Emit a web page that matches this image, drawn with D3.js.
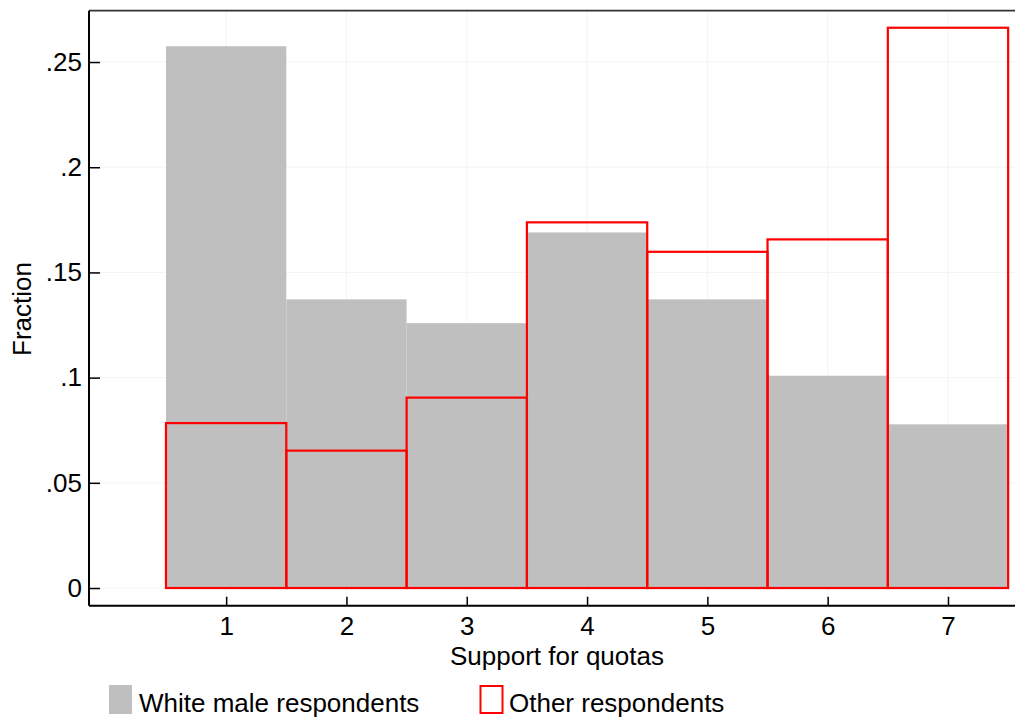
<!DOCTYPE html>
<html>
<head>
<meta charset="utf-8">
<script src="https://cdn.jsdelivr.net/npm/d3@7"></script>
<style>
html,body{margin:0;padding:0;background:#fff;}
svg{display:block;font-family:"Liberation Sans",Arial,Helvetica,sans-serif;}
</style>
</head>
<body>
<script>
const categories = [1, 2, 3, 4, 5, 6, 7];
const whiteMale = [0.2575, 0.1372, 0.1259, 0.1690, 0.1372, 0.1009, 0.0778];
const other = [0.0784, 0.0653, 0.0905, 0.1738, 0.1598, 0.1657, 0.2663];
const yTicks = [0, 0.05, 0.1, 0.15, 0.2, 0.25];
const yTickLabels = ["0", ".05", ".1", ".15", ".2", ".25"];
const seriesNames = ["White male respondents", "Other respondents"];

(function () {
const W = 1015, H = 721, FS = 26;
const svg = d3.select("body").append("svg").attr("width", W).attr("height", H);

const pL = 89, pR = 1015, pT = 10.7, pB = 605.7;
const x = d3.scaleLinear().domain([-0.14, 7.557]).range([pL, pR]);
const y = d3.scaleLinear().domain([-0.0084, 0.2744]).range([pB, pT]);

// faint grid
svg.append("g").selectAll("line").data(categories).join("line")
  .attr("x1", d => x(d)).attr("x2", d => x(d))
  .attr("y1", pT).attr("y2", pB)
  .attr("stroke", "#f4f4f4").attr("stroke-width", 1);
svg.append("g").selectAll("line").data(yTicks).join("line")
  .attr("x1", pL).attr("x2", pR)
  .attr("y1", d => y(d)).attr("y2", d => y(d))
  .attr("stroke", "#f4f4f4").attr("stroke-width", 1);

// gray bars
svg.append("g").selectAll("rect").data(categories).join("rect")
  .attr("x", d => x(d - 0.5))
  .attr("width", d => x(d + 0.5) - x(d - 0.5))
  .attr("y", (d, i) => y(whiteMale[i]))
  .attr("height", (d, i) => y(0) - y(whiteMale[i]))
  .attr("fill", "#bfbfbf");

// red outline bars
svg.append("g").selectAll("rect").data(categories).join("rect")
  .attr("x", d => x(d - 0.5))
  .attr("width", d => x(d + 0.5) - x(d - 0.5))
  .attr("y", (d, i) => y(other[i]))
  .attr("height", (d, i) => y(0) - y(other[i]))
  .attr("fill", "none")
  .attr("stroke", "#ff0000").attr("stroke-width", 2.2);

// top border
svg.append("line").attr("x1", pL).attr("x2", pR).attr("y1", pT).attr("y2", pT)
  .attr("stroke", "#333").attr("stroke-width", 1.8);

// y axis
const yAxis = d3.axisLeft(y).tickValues(yTicks)
  .tickFormat((d, i) => yTickLabels[i]).tickSize(-11).tickPadding(7);
const gy = svg.append("g").attr("transform", `translate(${pL},0)`).call(yAxis);
gy.select(".domain").attr("stroke", "#000").attr("stroke-width", 2).attr("d", `M0,${pT}V${pB}`);
gy.selectAll(".tick line").attr("stroke", "#000").attr("stroke-width", 1.5);
gy.selectAll(".tick text").attr("font-size", FS).attr("fill", "#000")
  .attr("font-family", "Liberation Sans, Arial, sans-serif");

// x axis
const xAxis = d3.axisBottom(x).tickValues(categories).tickFormat(d3.format("d"))
  .tickSize(-9).tickPadding(11);
const gx = svg.append("g").attr("transform", `translate(0,${pB})`).call(xAxis);
gx.select(".domain").attr("stroke", "#000").attr("stroke-width", 2).attr("d", `M${pL},0H${pR}`);
gx.selectAll(".tick line").attr("stroke", "#000").attr("stroke-width", 1.5);
gx.selectAll(".tick text").attr("font-size", FS).attr("fill", "#000")
  .attr("font-family", "Liberation Sans, Arial, sans-serif");

// axis titles
svg.append("text").attr("x", 557).attr("y", 665).attr("text-anchor", "middle")
  .attr("font-size", FS).text("Support for quotas");
svg.append("text").attr("transform", "translate(31,309) rotate(-90)")
  .attr("text-anchor", "middle").attr("font-size", FS).text("Fraction");

// legend
const legend = svg.append("g");
legend.append("rect").attr("x", 109).attr("y", 685).attr("width", 23).attr("height", 29).attr("fill", "#bfbfbf");
legend.append("text").attr("x", 139).attr("y", 712).attr("font-size", FS).text(seriesNames[0]);
legend.append("rect").attr("x", 480.5).attr("y", 686).attr("width", 22).attr("height", 27)
  .attr("fill", "none").attr("stroke", "#ff0000").attr("stroke-width", 2);
legend.append("text").attr("x", 509).attr("y", 712).attr("font-size", FS).text(seriesNames[1]);
})();
</script>
</body>
</html>
